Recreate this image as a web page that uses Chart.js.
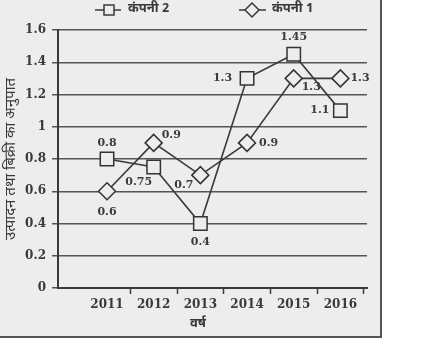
<!DOCTYPE html>
<html>
<head>
<meta charset="utf-8">
<script src="https://cdn.jsdelivr.net/npm/chart.js@4.4.0/dist/chart.umd.min.js"></script>
<style>
  html, body { margin: 0; padding: 0; background: #fff; }
  #wrap { width: 422px; height: 340px; }
</style>
</head>
<body>
<div id="wrap"><canvas id="chart" width="422" height="340"></canvas></div>
<script>
// data
const years = [2011, 2012, 2013, 2014, 2015, 2016];
const company2 = [0.8, 0.75, 0.4, 1.3, 1.45, 1.1];
const company1 = [0.6, 0.9, 0.7, 0.9, 1.3, 1.3];
const yTicks = [0, 0.2, 0.4, 0.6, 0.8, 1, 1.2, 1.4, 1.6];
const seriesNames = ['कंपनी 2', 'कंपनी 1'];
const yTitle = 'उत्पादन तथा बिक्री का अनुपात';
const xTitle = 'वर्ष';

// where each value label sits relative to its marker [dx, dy, align]
const labelPos2 = [[0, -16, 'center'], [-15, 15, 'center'], [0, 19, 'center'], [-15, 0, 'right'], [0, -17, 'center'], [-11, 0, 'right']];
const labelPos1 = [[0, 21, 'center'], [8, -8, 'left'], [-7, 10, 'right'], [12, 0, 'left'], [8, 9, 'left'], [10, 0, 'left']];

const ink = '#3a3a3a';
const paper = '#ededed';
const serif = '"DejaVu Serif", serif';
const hindi = '"Noto Sans Devanagari", "Noto Sans", sans-serif';

const pageFrame = {
  id: 'pageFrame',
  beforeDraw(chart) {
    const c = chart.ctx;
    c.save();
    c.fillStyle = '#fff';
    c.fillRect(0, 0, chart.width, chart.height);
    c.fillStyle = paper;
    c.fillRect(0, 0, 381, 337);
    c.strokeStyle = '#555';
    c.lineWidth = 2;
    c.beginPath();
    c.moveTo(381, 0);
    c.lineTo(381, 337);
    c.lineTo(0, 337);
    c.stroke();
    c.restore();
  },
  afterDraw(chart) {
    const c = chart.ctx;
    c.save();
    c.strokeStyle = ink;
    c.fillStyle = paper;
    c.lineWidth = 1.5;
    // legend: company 2 (square)
    c.beginPath(); c.moveTo(95, 10); c.lineTo(121, 10); c.stroke();
    c.fillRect(104, 5, 10, 10); c.strokeRect(104, 5, 10, 10);
    // legend: company 1 (diamond)
    c.beginPath(); c.moveTo(239, 10); c.lineTo(266, 10); c.stroke();
    c.beginPath();
    c.moveTo(252, 3); c.lineTo(259, 10); c.lineTo(252, 17); c.lineTo(245, 10); c.closePath();
    c.fill(); c.stroke();
    c.fillStyle = ink;
    c.font = 'bold 13px ' + hindi;
    c.textBaseline = 'middle';
    c.textAlign = 'left';
    c.fillText(seriesNames[0], 128, 10);
    c.fillText(seriesNames[1], 272, 10);
    // x title
    c.textAlign = 'center';
    c.fillText(xTitle, 198, 325);
    c.restore();
  }
};

const valueLabels = {
  id: 'valueLabels',
  afterDatasetsDraw(chart) {
    const c = chart.ctx;
    const pos = [labelPos2, labelPos1];
    const vals = [company2, company1];
    c.save();
    c.font = 'bold 11px ' + serif;
    c.fillStyle = ink;
    c.textBaseline = 'middle';
    chart.data.datasets.forEach((ds, i) => {
      chart.getDatasetMeta(i).data.forEach((pt, j) => {
        const [dx, dy, align] = pos[i][j];
        c.textAlign = align;
        c.fillText(String(vals[i][j]), pt.x + dx, pt.y + dy);
      });
    });
    c.restore();
  }
};

new Chart(document.getElementById('chart'), {
  type: 'line',
  data: {
    datasets: [
      {
        label: seriesNames[0],
        data: years.map((x, i) => ({ x: x, y: company2[i] })),
        borderColor: ink,
        borderWidth: 1.6,
        pointStyle: 'rect',
        pointRadius: 9.5,
        pointBackgroundColor: paper,
        pointBorderColor: '#333',
        pointBorderWidth: 1.5,
        tension: 0
      },
      {
        label: seriesNames[1],
        data: years.map((x, i) => ({ x: x, y: company1[i] })),
        borderColor: ink,
        borderWidth: 1.6,
        pointStyle: 'rectRot',
        pointRadius: 8.5,
        pointBackgroundColor: paper,
        pointBorderColor: '#333',
        pointBorderWidth: 1.5,
        tension: 0
      }
    ]
  },
  options: {
    responsive: false,
    animation: false,
    layout: { padding: { top: 30, right: 55, left: 0, bottom: 0 } },
    plugins: { legend: { display: false }, tooltip: { enabled: false } },
    scales: {
      x: {
        type: 'linear',
        min: 2009.95,
        max: 2016.57,
        afterBuildTicks: s => {
          const t = [];
          years.forEach(y => { t.push({ value: y }); t.push({ value: y + 0.5 }); });
          s.ticks = t;
        },
        afterFit: s => { s.height = 52; },
        ticks: {
          autoSkip: false,
          maxRotation: 0,
          padding: 4,
          color: ink,
          font: { family: serif, size: 12, weight: 'bold' },
          callback: v => (v % 1 === 0 ? String(v) : '')
        },
        grid: {
          drawOnChartArea: false,
          drawTicks: true,
          tickLength: 6,
          tickWidth: 1.5,
          tickColor: ctx => (ctx.tick && ctx.tick.value % 1 !== 0 ? ink : 'rgba(0,0,0,0)')
        },
        border: { display: true, color: ink, width: 2 }
      },
      y: {
        min: 0,
        max: 1.6,
        afterBuildTicks: s => { s.ticks = yTicks.map(v => ({ value: v })); },
        afterFit: s => { s.width = 58; },
        ticks: {
          padding: 6,
          color: ink,
          font: { family: serif, size: 12, weight: 'bold' },
          callback: v => String(v)
        },
        grid: {
          color: '#555',
          lineWidth: 1.5,
          tickLength: 6
        },
        border: { display: true, color: ink, width: 2 },
        title: {
          display: true,
          text: yTitle,
          color: ink,
          font: { family: hindi, size: 15, weight: 'normal' },
          padding: { top: 3, bottom: 0 }
        }
      }
    }
  },
  plugins: [pageFrame, valueLabels]
});
</script>
</body>
</html>
